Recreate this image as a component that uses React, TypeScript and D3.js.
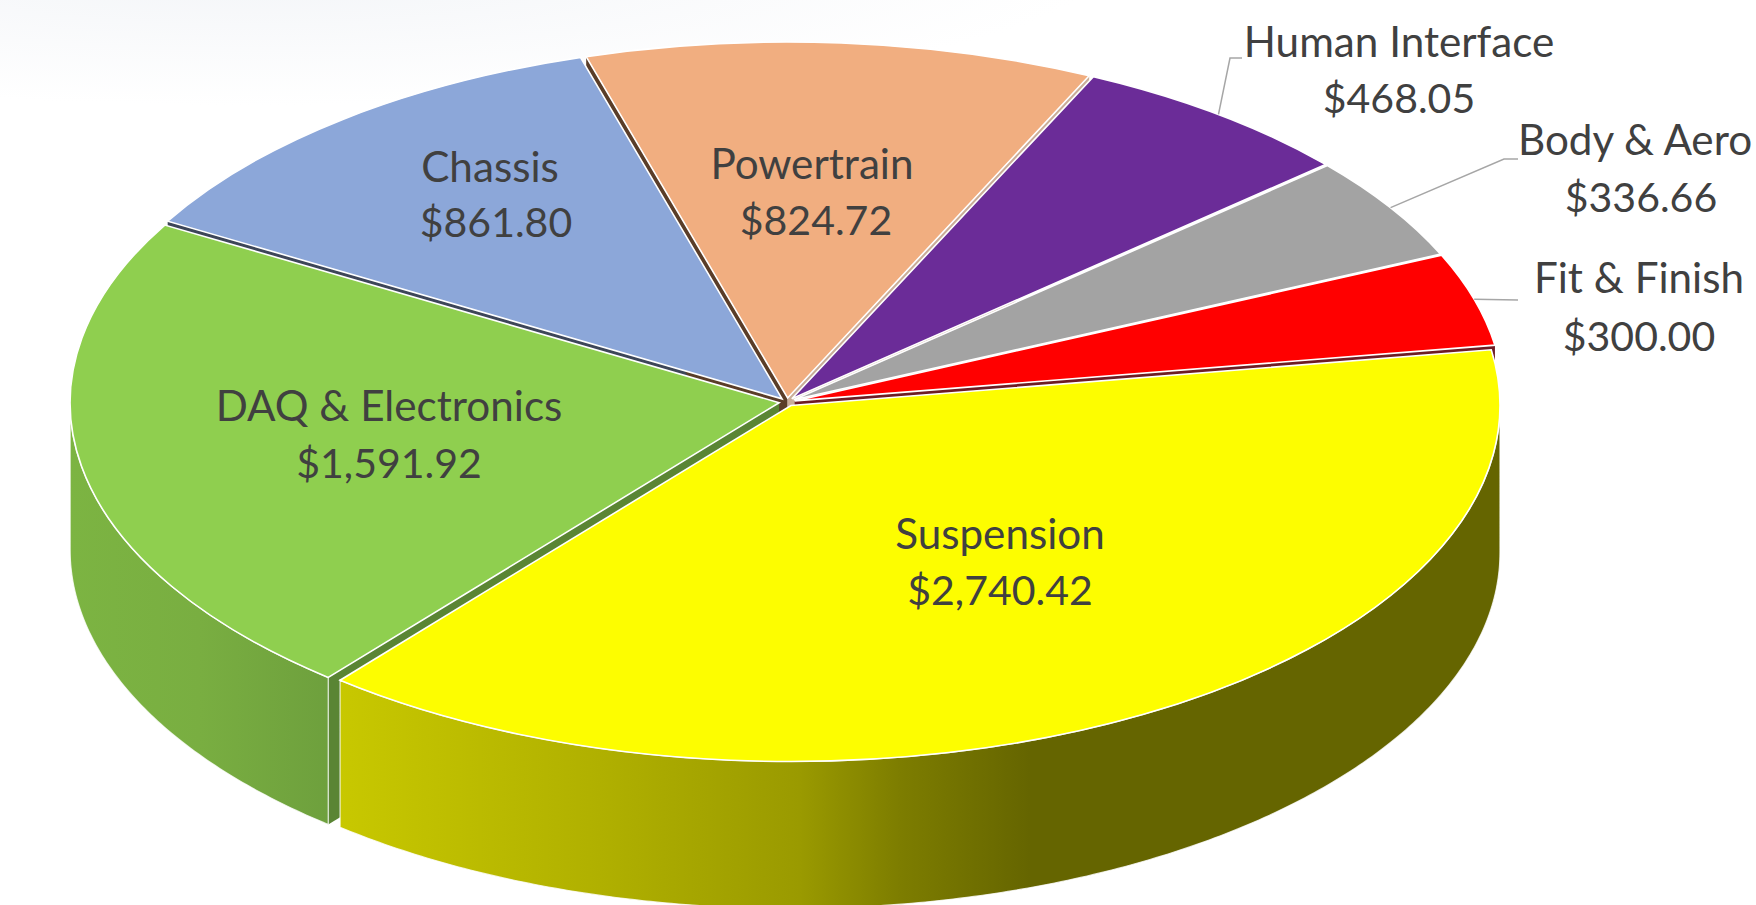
import React, {useRef, useEffect} from "react";
import * as d3 from "d3";

// values
const categories = ["Suspension", "DAQ & Electronics", "Chassis", "Powertrain", "Human Interface", "Body & Aero", "Fit & Finish"];
const costs = [2740.42, 1591.92, 861.80, 824.72, 468.05, 336.66, 300.00];
const topColors = ["#fdfd00", "#8fcf4f", "#8ca7d9", "#f1ae80", "#6b2c98", "#a3a3a3", "#ff0000"];

const width = 1756;
const height = 905;
const cx = 787;
const cy = 402;
const rx = 709;
const ry = 356;
const depth = 147;
const explode = 8;
const firstAngle = (81.0 * Math.PI) / 180;
const squash = ry / rx;

// label spot per category: [centre x name, baseline name, centre x value, baseline value]
const labelLayout: Record<string, number[]> = {
    "Suspension": [1000, 549, 1000, 605],
    "DAQ & Electronics": [389, 421, 389, 478],
    "Chassis": [490, 182, 496, 237],
    "Powertrain": [812, 179, 816, 235],
    "Human Interface": [1399, 57, 1399, 113],
    "Body & Aero": [1635, 155, 1641, 212],
    "Fit & Finish": [1639, 293, 1639, 351],
};

// leader lines go from the slice rim to these elbows
const leaderLayout: Record<string, number[][]> = {
    "Human Interface": [[1230, 58], [1242, 58]],
    "Body & Aero": [[1504, 159], [1518, 159]],
    "Fit & Finish": [[1518, 300]],
};

// which cut faces show in the gaps: category, edge, colour
const cutFaces: [string, "start" | "end", string][] = [
    ["Chassis", "start", "#3d4658"],
    ["Powertrain", "start", "#5a3d28"],
    ["Powertrain", "end", "#c9ad98"],
    ["Fit & Finish", "end", "#6e1c24"],
    ["DAQ & Electronics", "start", "#5a8534"],
];

const App = () => {
    const ref = useRef<SVGSVGElement>(null);

    useEffect(() => {
        const svg = d3.select(ref.current);
        svg.selectAll("*").remove();

        const pie = d3.pie<number>()
            .sort(null)
            .startAngle(firstAngle)
            .endAngle(firstAngle + 2 * Math.PI);

        const slices = pie(costs).map((d, i) => {
            const mid = (d.startAngle + d.endAngle) / 2;
            return {
                ...d,
                name: categories[i],
                fill: topColors[i],
                mid,
                ox: explode * Math.sin(mid),
                oy: -explode * Math.cos(mid) * squash,
            };
        });

        const rim = (s, a, drop = 0): [number, number] => [
            cx + s.ox + rx * Math.sin(a),
            cy + s.oy - ry * Math.cos(a) + drop,
        ];
        const line = d3.line();

        // Backdrop, a faint grey haze in the top left corner
        const defs = svg.append("defs");
        const haze = defs.append("radialGradient")
            .attr("id", "haze")
            .attr("gradientUnits", "userSpaceOnUse")
            .attr("cx", 0).attr("cy", 0).attr("r", 1)
            .attr("gradientTransform", "translate(250,-30) scale(850,135)");
        haze.append("stop").attr("offset", "0%").attr("stop-color", "#f3f5f8");
        haze.append("stop").attr("offset", "100%").attr("stop-color", "#ffffff");
        svg.append("rect").attr("width", width).attr("height", height).attr("fill", "url(#haze)");

        const wallGradient = (id, stops) => {
            const g = defs.append("linearGradient")
                .attr("id", id)
                .attr("gradientUnits", "userSpaceOnUse")
                .attr("x1", 0).attr("x2", width).attr("y1", 0).attr("y2", 0);
            stops.forEach(([x, c]) => {
                g.append("stop").attr("offset", x / width).attr("stop-color", c);
            });
        };
        wallGradient("wallYellow", [[339, "#c8c800"], [600, "#b0b000"], [800, "#9a9a00"], [900, "#7d7d00"], [1030, "#656500"], [1510, "#656500"]]);
        wallGradient("wallGreen", [[70, "#7cb442"], [200, "#79ae41"], [328, "#6ea03d"]]);

        // Cut faces first, the tops hide everything but the gaps
        const bySlice = (name) => slices.find(s => s.name === name);
        svg.append("g").selectAll("path")
            .data(cutFaces)
            .join("path")
            .attr("fill", d => d[2])
            .attr("d", ([name, edge]) => {
                const s = bySlice(name);
                const a = edge === "start" ? s.startAngle : s.endAngle;
                const apex: [number, number] = [cx + s.ox, cy + s.oy];
                const r0 = rim(s, a);
                const r1 = rim(s, a, depth);
                return line([apex, r0, r1, [apex[0], apex[1] + depth]]) + "Z";
            });

        // Outer walls of the slices facing the viewer
        const walls = [
            {name: "DAQ & Electronics", from: bySlice("DAQ & Electronics").startAngle, to: 1.5 * Math.PI, fill: "url(#wallGreen)"},
            {name: "Suspension", from: Math.PI / 2, to: bySlice("Suspension").endAngle, fill: "url(#wallYellow)"},
        ];
        svg.append("g").selectAll("path")
            .data(walls)
            .join("path")
            .attr("fill", d => d.fill)
            .attr("stroke", "#ffffff")
            .attr("stroke-width", 1.2)
            .attr("stroke-opacity", 0.8)
            .attr("d", d => {
                const s = bySlice(d.name);
                const angles = d3.range(d.from, d.to, 0.01).concat(d.to);
                const upper = angles.map(a => rim(s, a));
                const lower = angles.slice().reverse().map(a => rim(s, a, depth));
                return line(upper.concat(lower)) + "Z";
            });

        // Top faces
        const arc = d3.arc().innerRadius(0).outerRadius(rx);
        svg.append("g").selectAll("path")
            .data(slices)
            .join("path")
            .attr("transform", d => `translate(${cx + d.ox},${cy + d.oy}) scale(1,${squash})`)
            .attr("d", d => arc({startAngle: d.startAngle, endAngle: d.endAngle, innerRadius: 0, outerRadius: rx}))
            .attr("fill", d => d.fill)
            .attr("stroke", "#ffffff")
            .attr("stroke-width", 1.6)
            .attr("vector-effect", "non-scaling-stroke");

        // Leader lines
        svg.append("g").selectAll("path")
            .data(slices.filter(s => leaderLayout[s.name]))
            .join("path")
            .attr("fill", "none")
            .attr("stroke", "#a6a6a6")
            .attr("stroke-width", 1.5)
            .attr("d", d => line([rim(d, d.mid), ...leaderLayout[d.name]] as [number, number][]));

        // Labels
        const money = d3.format("$,.2f");
        const labels = svg.append("g")
            .attr("font-family", "Lato, 'Open Sans', sans-serif")
            .attr("fill", "#404040")
            .attr("text-anchor", "middle")
            .selectAll("g")
            .data(slices)
            .join("g");
        labels.append("text")
            .attr("x", d => labelLayout[d.name][0])
            .attr("y", d => labelLayout[d.name][1])
            .attr("font-size", 42.2)
            .text(d => d.name);
        labels.append("text")
            .attr("x", d => labelLayout[d.name][2])
            .attr("y", d => labelLayout[d.name][3])
            .attr("font-size", 41)
            .text(d => money(d.value));
    }, []);

    return (
        <div style={{position: "fixed", left: 0, top: 0, width: width, height: height, overflow: "hidden", background: "#fff"}}>
            <svg ref={ref} width={width} height={height} style={{display: "block"}}></svg>
        </div>
    );
};

export default App;
